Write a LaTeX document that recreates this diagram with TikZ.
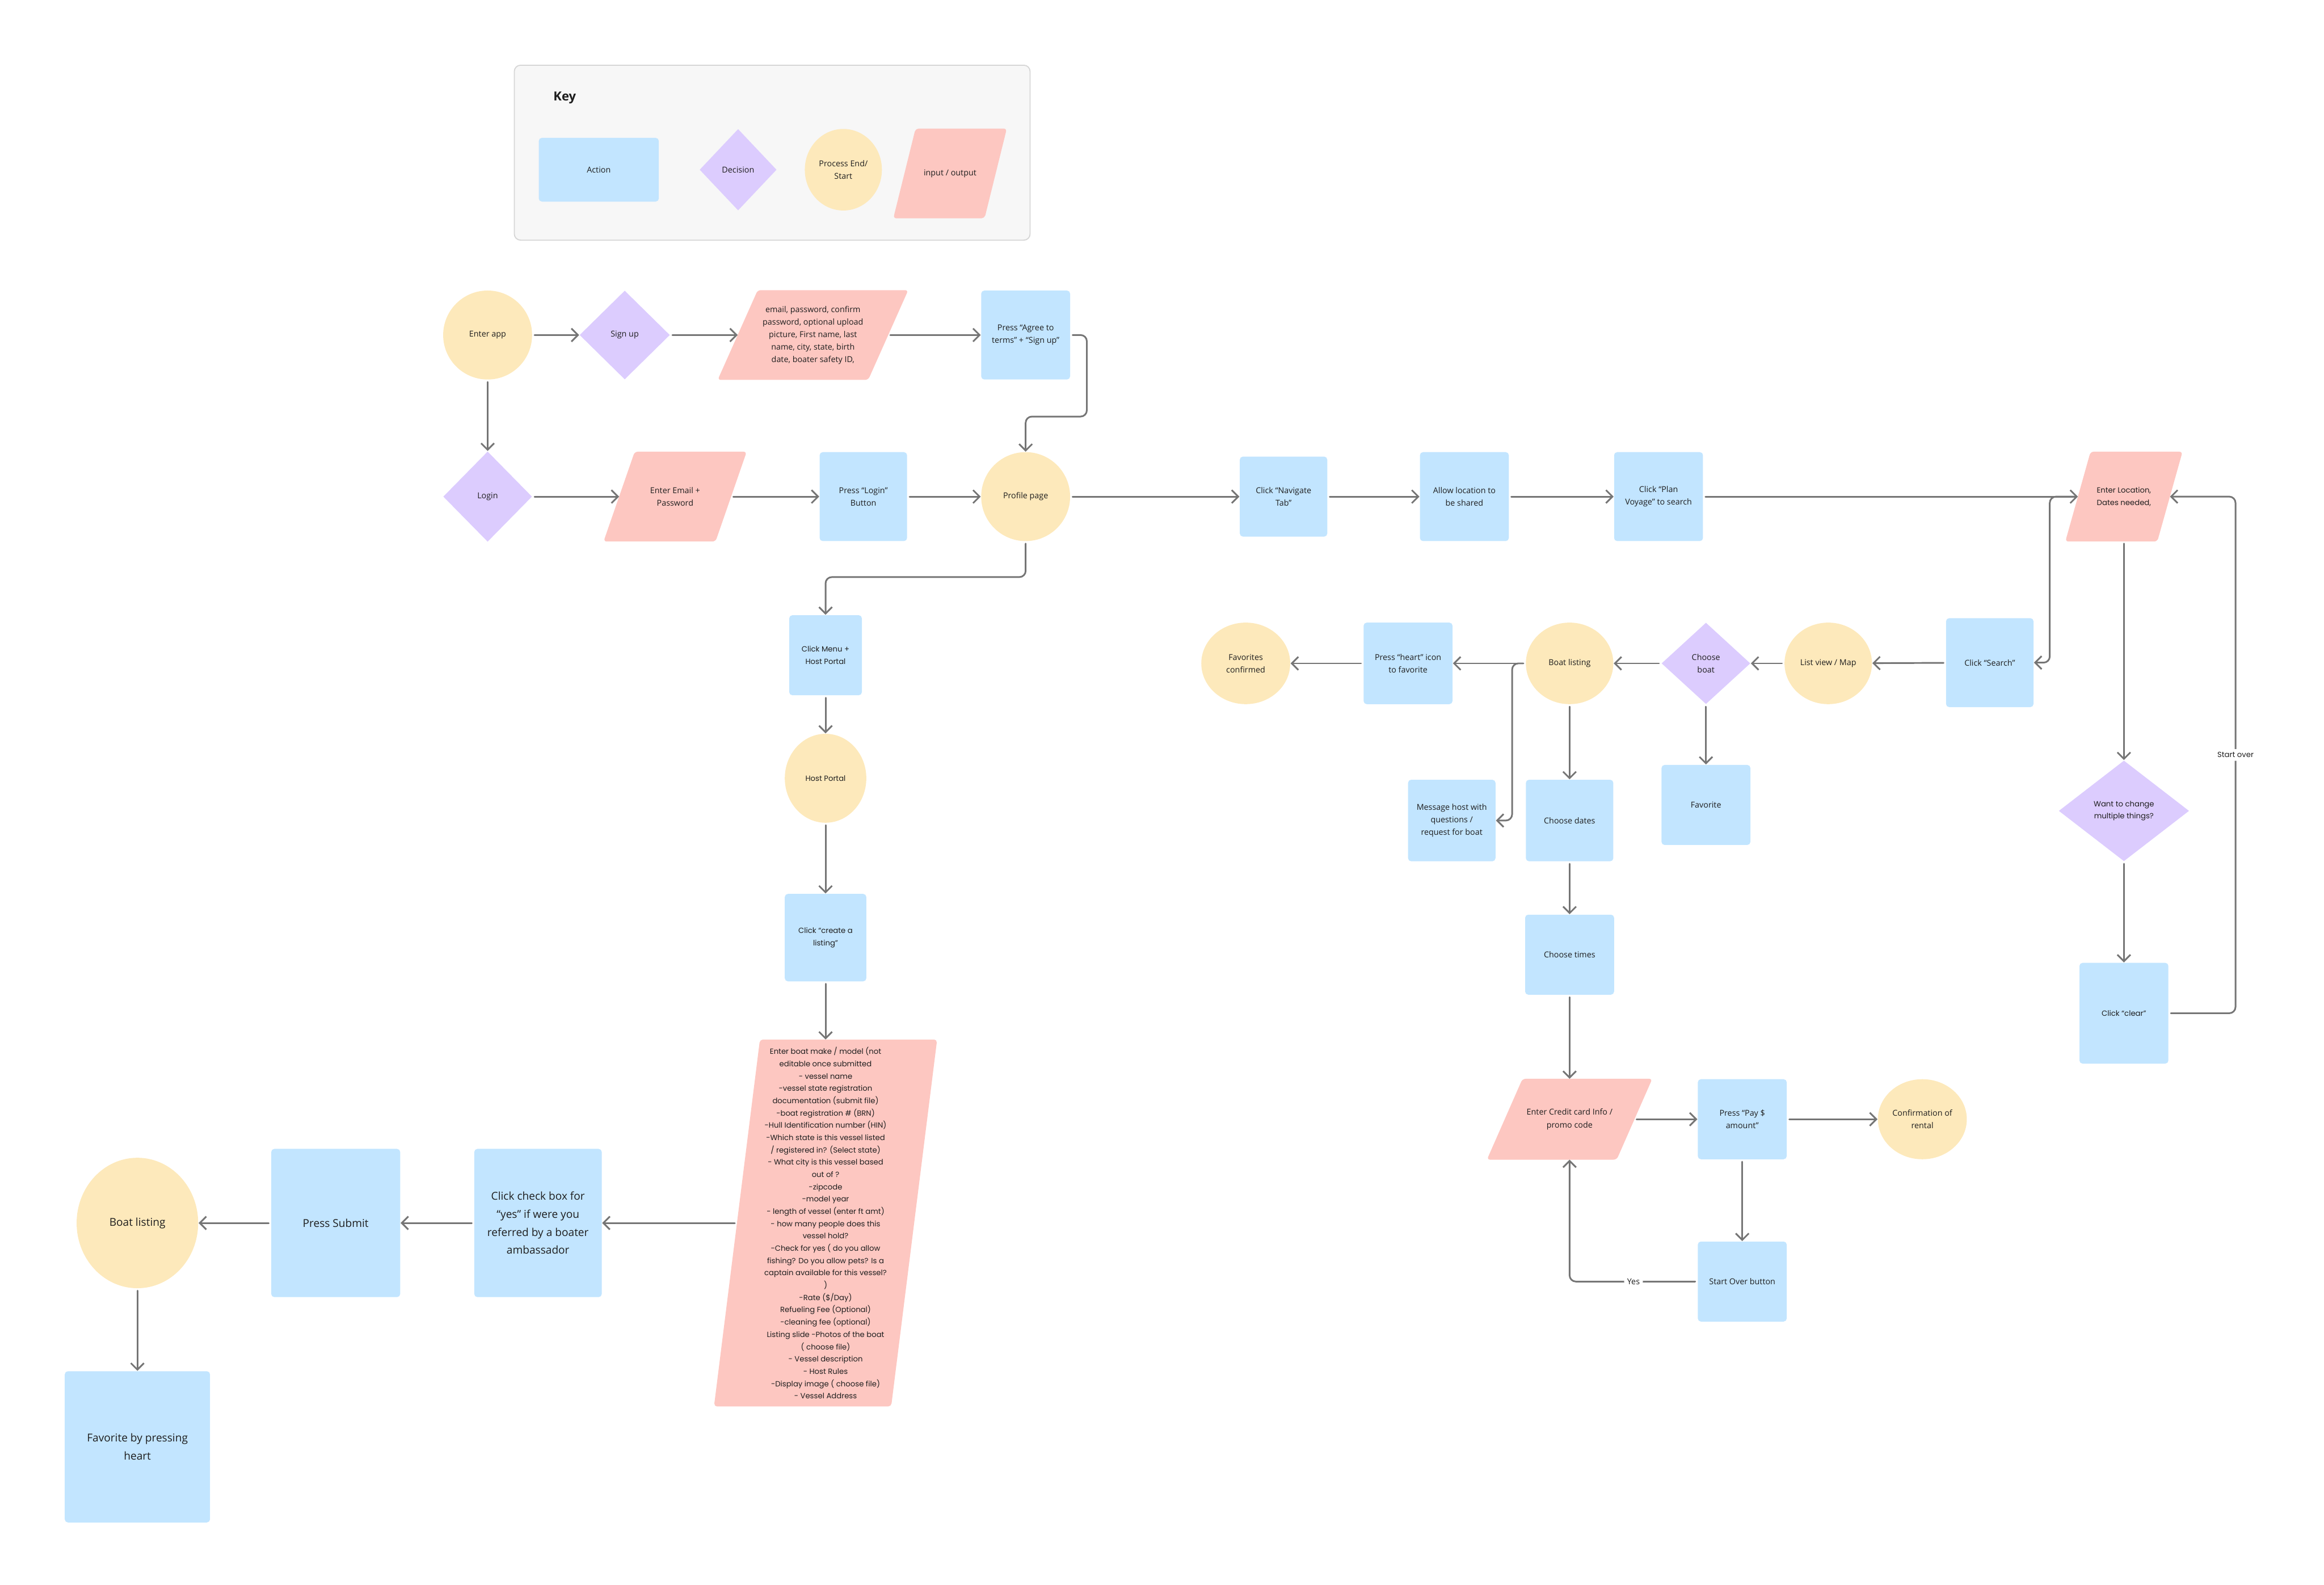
\documentclass[tikz,border=0pt]{standalone}
\usepackage{fontspec}
\setmainfont{Open Sans}
\newfontfamily\geofont{Poppins}
\definecolor{fcaction}{HTML}{C2E5FF}
\definecolor{fcdecision}{HTML}{DCCCFE}
\definecolor{fcend}{HTML}{FDE9BB}
\definecolor{fcio}{HTML}{FDC7C1}
\definecolor{fcline}{HTML}{757575}
\definecolor{fctext}{HTML}{1E1E1E}
\definecolor{fckey}{HTML}{F7F7F7}
\definecolor{fckeyline}{HTML}{D6D6D6}
\usepackage{tikz}
\usetikzlibrary{arrows.meta, shapes.geometric, calc, backgrounds}

% input / output: slanted fill behind a named box
\newcommand{\iofill}[2]{%
  \begin{scope}[on background layer]
    \fill[fcio, rounded corners=1.5pt]
      ($(#1.south west)+(-#2,0)$) -- ($(#1.south east)+(-#2,0)$) --
      ($(#1.north east)+(#2,0)$) -- ($(#1.north west)+(#2,0)$) -- cycle;
  \end{scope}}

\begin{document}
\begin{tikzpicture}[x=0.025cm, y=-0.025cm,
  font=\fontsize{3.9}{6}\selectfont, text=fctext,
  wh/.style 2 args={minimum width=#1*0.025cm, minimum height=#2*0.025cm},
  action/.style={rectangle, rounded corners=1.5pt, fill=fcaction, inner sep=0pt, align=center},
  decision/.style={diamond, fill=fcdecision, inner sep=0pt, align=center},
  endpoint/.style={ellipse, fill=fcend, inner sep=0pt, align=center},
  io/.style={rectangle, inner sep=0pt, align=center},
  geo/.style={font=\geofont\fontsize{3.6}{5.9}\selectfont},
  big/.style={font=\fontsize{5.2}{8.6}\selectfont},
  flow/.style={draw=fcline, line width=0.8pt, line cap=round,
               -{Straight Barb[length=1.1mm, width=2.2mm]}, shorten <=1pt},
  lbl/.style={fill=white, inner sep=1.5pt}
]
  \useasboundingbox (0,0) rectangle (1568,1069);

  % key
  \begin{scope}[on background layer]
    \filldraw[fill=fckey, draw=fckeyline, line width=0.5pt, rounded corners=3pt]
      (347,44) rectangle (695,162);
  \end{scope}
  \node[font=\fontsize{6}{7}\selectfont\bfseries] (keytitle) at (381,66) {Key};
  \node[action, wh={81}{43}] (keyaction) at (404,114.5) {Action};
  \node[decision, wh={52}{55}] (keydecision) at (498,114.5) {Decision};
  \node[endpoint, wh={52}{55}] (keyend) at (569,114.5) {Process End/\\Start};
  \node[io, wh={61}{60}] (keyio) at (641,117) {input / output};
  \iofill{keyio}{7.5}

  % sign up / login
  \node[endpoint, wh={60}{60}] (enter) at (329,226) {Enter app};
  \node[decision, wh={61}{60}] (signup) at (421.5,226) {Sign up};
  \node[io, wh={101}{60}] (signinfo) at (548.5,226) {email, password, confirm\\password, optional upload\\picture, First name, last\\name, city, state, birth\\date, boater safety ID,};
  \iofill{signinfo}{13.5}
  \node[action, wh={60}{60}] (agree) at (692,226) {Press “Agree to\\terms” + “Sign up”};
  \node[decision, wh={60}{61}] (login) at (329,335) {Login};
  \node[io, wh={75}{60}] (email) at (455.5,335) {Enter Email +\\Password};
  \iofill{email}{10.5}
  \node[action, wh={59}{60}] (loginbtn) at (582.5,335) {Press “Login”\\Button};
  \node[endpoint, wh={60}{60}] (profile) at (692,335) {Profile page};

  % renter
  \node[action, wh={59}{54}] (navtab) at (866,335) {Click “Navigate\\Tab”};
  \node[action, wh={60}{60}] (allowloc) at (988,335) {Allow location to\\be shared};
  \node[action, wh={60}{60}] (plan) at (1119,335) {Click “Plan\\Voyage” to search};
  \node[io, geo, wh={61.5}{60}] (location) at (1433,335) {Enter Location,\\Dates needed,};
  \iofill{location}{8.5}
  \node[action, wh={59}{60}] (search) at (1342.5,447) {Click “Search”};
  \node[endpoint, wh={59}{55}] (listmap) at (1233.5,447.5) {List view / Map};
  \node[decision, wh={60}{55}] (choose) at (1151,447.5) {Choose\\boat};
  \node[endpoint, wh={59}{55}] (listing) at (1059,447.5) {Boat listing};
  \node[action, wh={60}{55}] (heart) at (950,447.5) {Press “heart” icon\\to favorite};
  \node[endpoint, wh={60}{55}] (favconf) at (840.5,447.5) {Favorites\\confirmed};
  \node[action, wh={59}{55}] (message) at (979.5,553.5) {Message host with\\questions /\\request for boat};
  \node[action, wh={59}{55}] (dates) at (1059,553.5) {Choose dates};
  \node[action, wh={60}{54}] (favorite) at (1151,543) {Favorite};
  \node[decision, geo, wh={88}{68}] (change) at (1433,547) {Want to change\\multiple things?};
  \node[action, geo, wh={60}{68}] (clear) at (1433,683.5) {Click “clear”};
  \node[action, wh={60}{54}] (times) at (1059,644) {Choose times};
  \node[io, wh={87}{54}] (card) at (1059,755) {Enter Credit card Info /\\promo code};
  \iofill{card}{12}
  \node[action, wh={60}{54}] (pay) at (1175.5,755) {Press “Pay \$\\amount”};
  \node[endpoint, wh={60}{54}] (confirm) at (1297,755) {Confirmation of\\rental};
  \node[action, wh={60}{54}] (startbtn) at (1175.5,864.5) {Start Over button};

  % host
  \node[action, geo, wh={49}{54}] (menu) at (557,442) {Click Menu +\\Host Portal};
  \node[endpoint, geo, wh={55}{60}] (portal) at (557,525) {Host Portal};
  \node[action, geo, wh={55}{59}] (create) at (557,632.5) {Click “create a\\listing”};
  \node[io, geo, wh={119}{247}] (boatform) at (557,825) {Enter boat make / model (not\\editable once submitted\\- vessel name\\-vessel state registration\\documentation (submit file)\\-boat registration \# (BRN)\\-Hull Identification number (HIN)\\-Which state is this vessel listed\\/ registered in? (Select state)\\- What city is this vessel based\\out of ?\\-zipcode\\-model year\\- length of vessel (enter ft amt)\\- how many people does this\\vessel hold?\\-Check for yes ( do you allow\\fishing? Do you allow pets? Is a\\captain available for this vessel?\\)\\-Rate (\$/Day)\\Refueling Fee (Optional)\\-cleaning fee (optional)\\Listing slide -Photos of the boat\\( choose file)\\- Vessel description\\- Host Rules\\-Display image ( choose file)\\- Vessel Address};
  \iofill{boatform}{15.5}
  \node[action, big, wh={86}{100}] (referral) at (363,825) {Click check box for\\“yes” if were you\\referred by a boater\\ambassador};
  \node[action, big, wh={87}{100}] (submit) at (226.5,825) {Press Submit};
  \node[endpoint, big, wh={82}{88}] (hostlisting) at (92.7,825) {Boat listing};
  \node[action, big, wh={98}{102}] (favheart) at (92.7,976) {Favorite by pressing\\heart};

  % connectors
  \draw[flow] (enter) -- (signup);
  \draw[flow] (signup) -- (signinfo);
  \draw[flow] (signinfo) -- (agree);
  \draw[flow, rounded corners=3pt] (agree.east) -- ++(11,0) -- ++(0,55) -| (profile.north);
  \draw[flow] (enter) -- (login);
  \draw[flow] (login) -- (email);
  \draw[flow] (email) -- (loginbtn);
  \draw[flow] (loginbtn) -- (profile);
  \draw[flow] (profile) -- (navtab);
  \draw[flow] (navtab) -- (allowloc);
  \draw[flow] (allowloc) -- (plan);
  \draw[flow] (plan) -- (location);
  \draw[flow, rounded corners=3pt] (location.west) -- ++(-19,0) |- (search.east);
  \draw[flow] (location) -- (change);
  \draw[flow] (change) -- (clear);
  \draw[flow, rounded corners=3pt] (clear.east) -- ++(45,0)
    |- node[lbl, geo, pos=0.25] (startover) {Start over} (location.east);
  \draw[flow] (search) -- (listmap);
  \draw[flow] (listmap) -- (choose);
  \draw[flow] (choose) -- (listing);
  \draw[flow] (listing) -- (heart);
  \draw[flow] (heart) -- (favconf);
  \draw[flow] (choose) -- (favorite);
  \draw[flow, rounded corners=3pt] (listing.west) -- ++(-9,0) |- (message.east);
  \draw[flow] (listing) -- (dates);
  \draw[flow] (dates) -- (times);
  \draw[flow] (times) -- (card);
  \draw[flow] (card) -- (pay);
  \draw[flow] (pay) -- (confirm);
  \draw[flow] (pay) -- (startbtn);
  \draw[flow, rounded corners=3pt] (startbtn.west)
    -| node[lbl, pos=0.25] (yes) {Yes} (card.south);
  \draw[flow, rounded corners=3pt] (profile.south) -- ++(0,24) -| (menu.north);
  \draw[flow] (menu) -- (portal);
  \draw[flow] (portal) -- (create);
  \draw[flow] (create) -- (boatform);
  \draw[flow] (boatform) -- (referral);
  \draw[flow] (referral) -- (submit);
  \draw[flow] (submit) -- (hostlisting);
  \draw[flow] (hostlisting) -- (favheart);
\end{tikzpicture}
\end{document}
